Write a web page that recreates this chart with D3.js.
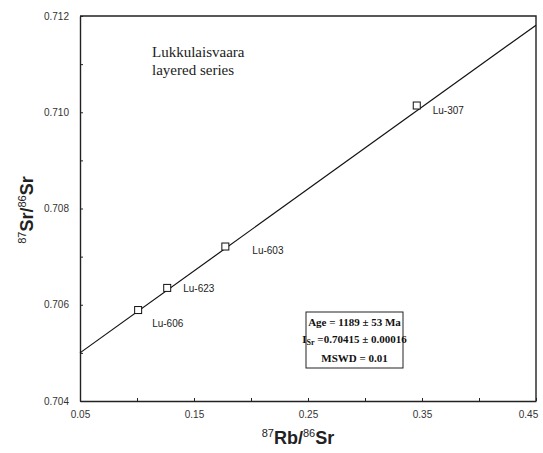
<!DOCTYPE html>
<html>
<head>
<meta charset="utf-8">
<script src="https://cdn.jsdelivr.net/npm/d3@7"></script>
<style>
  body { margin: 0; background: #fff; }
  svg { display: block; }
  .tick text { font-family: Arial, "Liberation Sans", sans-serif; font-size: 10px; fill: #333; }
</style>
</head>
<body>
<svg id="chart"></svg>
<script>
// sample points
const samples = ["Lu-606", "Lu-623", "Lu-603", "Lu-307"];
const rbSr = [0.101, 0.1265, 0.1775, 0.3454];
const srSr = [0.70589, 0.70635, 0.70721, 0.71014];

// isochron end points
const lineX = [0.05, 0.45];
const lineY = [0.70500, 0.71181];

const xTicks = [0.05, 0.10, 0.15, 0.20, 0.25, 0.30, 0.35, 0.40, 0.45];
const xLabels = [0.05, 0.15, 0.25, 0.35, 0.45];
const yTicks = [0.704, 0.705, 0.706, 0.707, 0.708, 0.709, 0.710, 0.711, 0.712];
const yLabels = [0.704, 0.706, 0.708, 0.710, 0.712];

const W = 543, H = 453;
const margin = { top: 16, right: 7, bottom: 52, left: 80 };

const svg = d3.select("#chart").attr("width", W).attr("height", H);

const x = d3.scaleLinear().domain([0.05, 0.45]).range([margin.left, W - margin.right]);
const y = d3.scaleLinear().domain([0.704, 0.712]).range([H - margin.bottom, margin.top]);

// x axis, ticks pointing inwards
const xAxis = svg.append("g")
  .attr("transform", "translate(0," + (H - margin.bottom) + ")")
  .call(d3.axisBottom(x).tickValues(xTicks).tickSize(-3).tickSizeOuter(0)
    .tickFormat(d => xLabels.some(v => Math.abs(v - d) < 1e-9) ? d3.format(".2f")(d) : ""));
xAxis.selectAll(".tick text").attr("y", 10).attr("dy", "0.71em");
xAxis.selectAll(".tick:last-of-type text").attr("dx", -8);

// y axis
const yAxis = svg.append("g")
  .attr("transform", "translate(" + margin.left + ",0)")
  .call(d3.axisLeft(y).tickValues(yTicks).tickSize(-3).tickSizeOuter(0)
    .tickFormat(d => yLabels.some(v => Math.abs(v - d) < 1e-9) ? d3.format(".3f")(d) : ""));
yAxis.selectAll(".tick text").attr("x", -11);

svg.selectAll(".domain").attr("stroke", "#222").attr("stroke-width", 1.4);
svg.selectAll(".tick line").attr("stroke", "#222");

// top and right frame
svg.append("path")
  .attr("d", "M" + x(0.05) + "," + y(0.712) + "H" + x(0.45) + "V" + y(0.704))
  .attr("fill", "none").attr("stroke", "#222").attr("stroke-width", 1.4);

// isochron
svg.append("line")
  .attr("x1", x(lineX[0])).attr("y1", y(lineY[0]))
  .attr("x2", x(lineX[1])).attr("y2", y(lineY[1]))
  .attr("stroke", "#111").attr("stroke-width", 1.2);

// points
const pts = samples.map((s, i) => ({ name: s, x: rbSr[i], y: srSr[i] }));
svg.append("g").selectAll("rect")
  .data(pts)
  .join("rect")
  .attr("x", d => x(d.x) - 3.5)
  .attr("y", d => y(d.y) - 3.5)
  .attr("width", 7).attr("height", 7)
  .attr("fill", "#fff").attr("stroke", "#111").attr("stroke-width", 1);

const labelOffset = { "Lu-606": [14, 17], "Lu-623": [16, 4], "Lu-603": [27, 7], "Lu-307": [16, 8] };
svg.append("g").selectAll("text")
  .data(pts)
  .join("text")
  .attr("x", d => x(d.x) + labelOffset[d.name][0])
  .attr("y", d => y(d.y) + labelOffset[d.name][1])
  .attr("font-family", "Arial, 'Liberation Sans', sans-serif")
  .attr("font-size", 10)
  .attr("fill", "#222")
  .text(d => d.name);

// title text
const title = svg.append("text")
  .attr("font-family", "'Liberation Serif', 'Times New Roman', serif")
  .attr("font-size", 15).attr("fill", "#222");
title.append("tspan").attr("x", 152).attr("y", 57).text("Lukkulaisvaara");
title.append("tspan").attr("x", 152).attr("y", 75).text("layered series");

// result box
const box = svg.append("g");
box.append("rect")
  .attr("x", 306).attr("y", 312).attr("width", 97).attr("height", 56)
  .attr("fill", "#fff").attr("stroke", "#222").attr("stroke-width", 1);
const boxText = box.append("text")
  .attr("font-family", "'Liberation Serif', 'Times New Roman', serif")
  .attr("font-weight", "bold").attr("font-size", 11)
  .attr("text-anchor", "middle").attr("fill", "#111");
boxText.append("tspan").attr("x", 354.5).attr("y", 326).text("Age = 1189 \u00b1 53 Ma");
const l2 = boxText.append("tspan").attr("x", 354.5).attr("y", 343);
l2.append("tspan").text("I");
l2.append("tspan").attr("font-size", 8).attr("dy", 2).text("Sr");
l2.append("tspan").attr("dy", -2).text(" =0.70415 \u00b1 0.00016");
boxText.append("tspan").attr("x", 354.5).attr("y", 362).text("MSWD = 0.01");

// axis titles
const xt = svg.append("text")
  .attr("x", 298).attr("y", 444)
  .attr("text-anchor", "middle")
  .attr("font-family", "Arial, 'Liberation Sans', sans-serif")
  .attr("font-weight", "bold").attr("font-size", 18).attr("fill", "#222");
xt.append("tspan").attr("font-size", 11).attr("font-weight", "normal").attr("dy", -7).text("87");
xt.append("tspan").attr("dy", 7).text("Rb/");
xt.append("tspan").attr("font-size", 11).attr("font-weight", "normal").attr("dy", -7).text("86");
xt.append("tspan").attr("dy", 7).text("Sr");

const yt = svg.append("text")
  .attr("transform", "translate(33,210) rotate(-90)")
  .attr("text-anchor", "middle")
  .attr("font-family", "Arial, 'Liberation Sans', sans-serif")
  .attr("font-weight", "bold").attr("font-size", 18).attr("fill", "#222");
yt.append("tspan").attr("font-size", 11).attr("font-weight", "normal").attr("dy", -7).text("87");
yt.append("tspan").attr("dy", 7).text("Sr/");
yt.append("tspan").attr("font-size", 11).attr("font-weight", "normal").attr("dy", -7).text("86");
yt.append("tspan").attr("dy", 7).text("Sr");
</script>
</body>
</html>
